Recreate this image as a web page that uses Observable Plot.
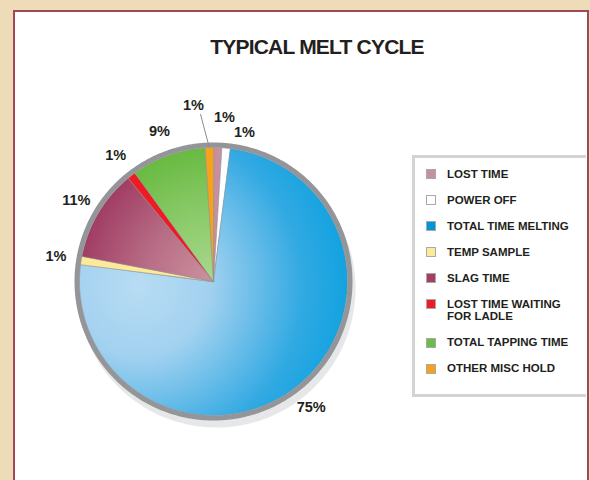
<!DOCTYPE html>
<html><head><meta charset="utf-8">
<script src="https://cdn.jsdelivr.net/npm/d3@7"></script>
<script src="https://cdn.jsdelivr.net/npm/@observablehq/plot@0.6"></script>
<style>
html,body{margin:0;padding:0;}
body{width:590px;height:480px;background:#eedcb9;position:relative;overflow:hidden;font-family:"Liberation Sans",Arial,Helvetica,sans-serif;color:#231f20;}
#panel{position:absolute;left:13px;top:10px;width:576px;height:480px;box-sizing:border-box;background:#fff;border:2.5px solid #a0485a;border-bottom:none;}
#title{position:absolute;left:117px;width:400px;top:35px;text-align:center;font-size:21px;font-weight:bold;letter-spacing:-0.8px;line-height:24px;}
#chart{position:absolute;left:0;top:0;}
#legend{position:absolute;left:412px;top:155px;width:174px;height:242px;box-sizing:border-box;border:3px solid #d1d3d4;border-right:none;padding:9.6px 0 0 11px;}
.item{display:flex;align-items:flex-start;margin-bottom:13.3px;font-size:11.5px;font-weight:bold;line-height:12.7px;}
.sw{width:10px;height:10px;box-sizing:border-box;border:0.8px solid #a7a9ac;margin-top:1.35px;margin-right:11px;flex:none;}
</style></head>
<body>
<div id="panel"></div>
<div id="chart"></div>
<div id="title">TYPICAL MELT CYCLE</div>
<div id="legend"></div>
<script>
// ---- data ----
const categories = ["LOST TIME", "POWER OFF", "TOTAL TIME MELTING", "TEMP SAMPLE", "SLAG TIME", "LOST TIME WAITING\nFOR LADLE", "TOTAL TAPPING TIME", "OTHER MISC HOLD"];
const values = [1, 1, 75, 1, 11, 1, 9, 1];
const labels = ["1%", "1%", "75%", "1%", "11%", "1%", "9%", "1%"];
const colors = ["#c8909e", "#ffffff", "#0095da", "#fde99a", "#a63d63", "#ed1c24", "#6cbd45", "#f7a21b"];

// ---- styling / layout ----
const W = 590, H = 480;
const cx = 213, cy = 281, R = 134;          // pie centre & fill radius (px)
const gradients = {2: "gBlue", 4: "gSlag", 6: "gGreen"};
const labelR = 1.19;
const nudges = {0: [6, -5], 1: [16, 10], 7: [-15, -17]}; // px offsets for crowded labels

const total = d3.sum(values);
const pie = d3.pie().sort(null).value(d => d)(values);

const slicePts = [];
pie.forEach((p, i) => {
  const fill = gradients[i] ? `url(#${gradients[i]})` : colors[i];
  slicePts.push({k: i, x: 0, y: 0, fill});
  const n = Math.max(2, Math.ceil((p.endAngle - p.startAngle) / (Math.PI / 180)));
  for (let j = 0; j <= n; j++) {
    const a = p.startAngle + (p.endAngle - p.startAngle) * j / n;
    slicePts.push({k: i, x: Math.sin(a), y: Math.cos(a), fill});
  }
});
const ring = d3.range(0, 361).map(d => ({a: d * Math.PI / 180}));
const ringR = 136.5 / R, shadowR = 139 / R;

const labelData = pie.map((p, i) => {
  const m = (p.startAngle + p.endAngle) / 2;
  const [nx, ny] = nudges[i] || [0, 0];
  return {label: labels[i], x: labelR * Math.sin(m) + nx / R, y: labelR * Math.cos(m) - ny / R, m};
});
const lo = labelData[7];
const leader = [{x1: lo.x + 7 / R, y1: lo.y - 9 / R, x2: 1.0 * Math.sin(lo.m), y2: 1.0 * Math.cos(lo.m)}];

const chart = Plot.plot({
  width: W, height: H, margin: 0,
  x: {domain: [-cx / R, (W - cx) / R], axis: null},
  y: {domain: [-(H - cy) / R, cy / R], axis: null},
  color: {type: "identity"},
  style: {background: "transparent", fontFamily: "'Liberation Sans', Arial, sans-serif"},
  marks: [
    Plot.line(ring, {x: d => shadowR * Math.sin(d.a), y: d => shadowR * Math.cos(d.a), fill: "#e6e7e8", stroke: "none", curve: "linear-closed", dx: 3, dy: 7}),
    Plot.line(slicePts, {x: "x", y: "y", z: "k", fill: "fill", stroke: "#8f9194", strokeWidth: 0.6, curve: "linear-closed"}),
    Plot.line(ring, {x: d => ringR * Math.sin(d.a), y: d => ringR * Math.cos(d.a), fill: "none", stroke: "#939598", strokeWidth: 5, curve: "linear-closed"}),
    Plot.link(leader, {x1: "x1", y1: "y1", x2: "x2", y2: "y2", stroke: "#8a8c8e", strokeWidth: 1}),
    Plot.text(labelData, {x: "x", y: "y", text: "label", fontSize: 14.5, fontWeight: "bold", fill: "#231f20"})
  ]
});

const defs = d3.select(chart).insert("defs", ":first-child");
function radial(id, cxp, cyp, r, stops) {
  const g = defs.append("radialGradient").attr("id", id).attr("gradientUnits", "userSpaceOnUse")
    .attr("cx", cxp).attr("cy", cyp).attr("r", r);
  stops.forEach(([o, c]) => g.append("stop").attr("offset", o).attr("stop-color", c));
}
radial("gBlue", cx - 75, cy + 5, 235, [[0, "#b8dcf3"], [0.3, "#a2d1f0"], [0.7, "#31a9e2"], [1, "#009fdf"]]);
radial("gSlag", cx, cy, R, [[0, "#cc929f"], [0.5, "#b86e86"], [1, "#a13d64"]]);
radial("gGreen", cx, cy, R, [[0, "#a9d88e"], [0.5, "#8ccb6b"], [1, "#69ba42"]]);

document.getElementById("chart").appendChild(chart);

// ---- legend ----
const legend = d3.select("#legend");
categories.forEach((c, i) => {
  const it = legend.append("div").attr("class", "item");
  it.append("div").attr("class", "sw").style("background", colors[i]);
  it.append("div").html(c.replace("\n", "<br>"));
});
</script>
</body></html>
